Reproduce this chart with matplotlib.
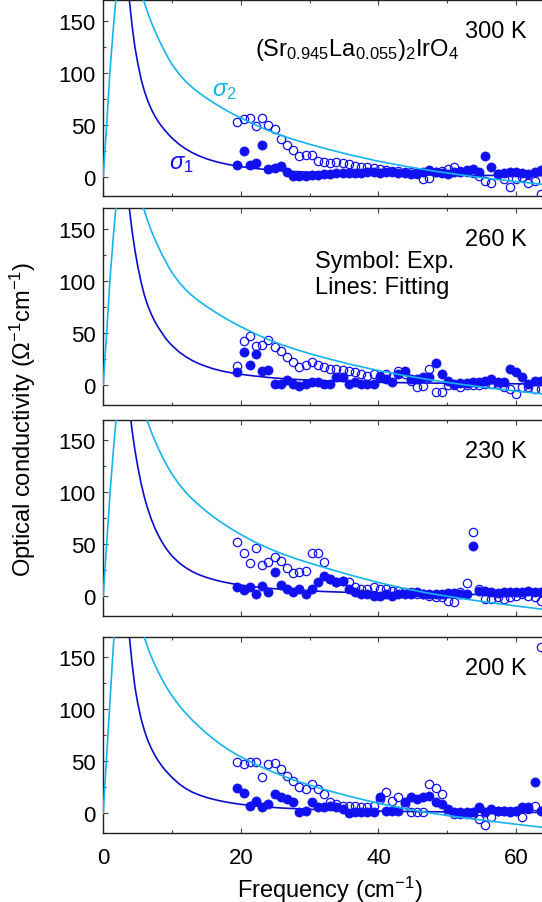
import matplotlib
matplotlib.use('Agg')
import matplotlib.pyplot as plt
from matplotlib.ticker import MultipleLocator

plt.rcParams['font.family'] = ['Liberation Sans', 'DejaVu Sans']
plt.rcParams['mathtext.fontset'] = 'custom'
plt.rcParams['mathtext.rm'] = 'Liberation Sans'
plt.rcParams['mathtext.it'] = 'Liberation Sans:italic'

# experimental frequency grid (cm^-1)
freq = [19.5, 20.4, 21.3, 22.2, 23.1, 24.0, 24.9, 25.8, 26.7, 27.6,
        28.5, 29.4, 30.3, 31.2, 32.1, 33.0, 33.9, 34.8, 35.7, 36.6,
        37.5, 38.4, 39.3, 40.2, 41.1, 42.0, 42.9, 43.8, 44.7, 45.6,
        46.5, 47.4, 48.3, 49.2, 50.1, 51.0, 51.9, 52.8, 53.7, 54.6,
        55.5, 56.4, 57.3, 58.2, 59.1, 60.0, 60.9, 61.8, 62.7, 63.6]

# sigma_1 (filled) and sigma_2 (open) measured, per temperature
s1_300 = [11.5, 24.4, 11.5, 12.8, 30.8, 7.4, 8.0, 10.0, 5.0, 1.0,
          0.5, 1.0, 1.5, 2.0, 2.5, 3.0, 3.5, 4.0, 3.5, 4.0,
          4.0, 4.5, 5.0, 4.0, 4.5, 5.0, 4.0, 3.5, 3.0, 4.0,
          5.0, 6.5, 5.0, 4.0, 3.0, 4.5, 5.0, 6.0, 7.0, 4.5,
          19.6, 9.6, 3.0, 4.0, 5.0, 5.0, 4.0, 3.0, 5.0, 6.0]
s2_300 = [52.3, 55.5, 56.1, 49.0, 56.1, 49.7, 45.9, 36.3, 30.5, 26.0,
          20.2, 20.9, 20.9, 15.4, 14.4, 13.2, 13.8, 12.8, 12.1, 10.6,
          9.0, 9.6, 8.0, 7.4, 6.7, 5.8, 5.8, 4.8, 4.2, 2.6,
          -2.2, -1.3, 4.2, 5.8, 7.4, 9.6, 5.8, 4.2, 3.5, 1.0,
          -3.8, -6.4, 2.6, -2.2, -9.6, -2.2, -0.6, -6.4, -3.8, -16.7]

s1_260 = [12.2, 31.4, 19.6, 29.8, 13.1, 14.7, 1.0, 1.0, 5.0, 1.0,
          -0.5, 1.0, 2.5, 2.5, 1.0, 1.0, 7.4, 7.4, 1.0, 2.5,
          1.0, 1.0, 1.0, 7.4, 5.8, 2.5, 10.6, 13.8, 5.8, 5.8,
          7.4, 8.0, 21.2, 10.6, 4.2, 1.0, 2.0, 2.0, 2.5, 2.5,
          4.0, 5.8, 3.0, 2.5, 15.4, 12.2, 7.4, 1.0, 4.2, 4.2]
s2_260 = [18.6, 42.6, 47.4, 37.8, 38.5, 43.3, 36.2, 33.0, 27.2, 21.8,
          17.0, 19.2, 21.8, 19.2, 17.0, 15.4, 15.4, 14.7, 13.8, 12.2,
          10.6, 9.0, 10.6, 9.0, 10.6, 7.4, 13.8, 11.0, 4.2, -2.2,
          -1.0, 15.0, -7.0, -7.0, 0.0, 0.0, -1.5, 0.0, 0.0, 0.5,
          1.0, 1.0, 1.0, -2.2, -3.8, -8.7, -2.2, -2.2, -3.8, -3.8]

s1_230 = [8.7, 6.4, 8.7, 2.2, 10.3, 3.8, 23.7, 11.2, 7.0, 3.8,
          7.0, 2.2, 7.0, 13.5, 19.9, 16.7, 13.5, 15.0, 7.0, 3.8,
          2.2, 2.2, 0.6, 0.6, 2.2, 0.6, 2.2, 2.2, 2.2, 3.8,
          2.2, 2.2, 2.2, 2.2, 3.2, 3.2, 2.2, 2.2, 48.0, 5.4,
          4.8, 3.8, 3.2, 3.8, 3.8, 3.8, 4.5, 4.8, 3.8, 4.5]
s2_230 = [52.6, 41.3, 31.7, 46.2, 30.1, 33.3, 38.1, 34.3, 27.2, 22.4,
          23.1, 24.0, 41.3, 41.3, 32.7, 16.7, 13.5, 15.0, 13.5, 8.7,
          7.0, 7.0, 8.7, 7.0, 7.0, 5.4, 5.4, 3.8, 3.8, 2.2,
          2.2, 0.6, -1.0, -1.0, -4.2, -5.0, 3.8, 12.5, 62.2, 7.0,
          -2.6, -2.6, -1.0, -2.6, -1.0, 0.6, 2.2, 0.6, -1.0, -4.2]

s1_200 = [24.0, 19.2, 7.4, 12.2, 5.8, 9.0, 18.6, 15.4, 13.8, 10.6,
          1.0, 2.6, 10.6, 5.8, 5.8, 7.4, 5.8, 4.2, 0.3, 1.0,
          1.0, 1.0, 1.0, 15.4, 2.6, 2.6, 2.6, 10.6, 15.4, 13.8,
          15.4, 17.0, 10.6, 9.0, 4.2, 1.6, 1.6, 1.0, 1.6, 5.8,
          1.6, 4.2, 2.6, 2.6, 1.6, 2.6, 5.8, 5.8, 30.4, 2.6]
s2_200 = [49.7, 47.4, 49.0, 49.7, 34.6, 47.4, 48.4, 42.6, 36.2, 30.8,
          25.0, 23.4, 28.2, 23.4, 18.6, 11.2, 9.0, 7.4, 7.4, 7.4,
          5.8, 5.8, 7.4, 13.8, 20.2, 12.2, 15.4, 9.0, 1.6, 1.6,
          1.0, 28.2, 24.0, 18.6, 2.6, -0.6, -0.6, -0.6, -0.6, -5.4,
          -11.2, -3.8, 2.6, 2.6, 2.6, 2.6, -3.8, 4.2, 7.4, 160.0]

# fitted curves
fit1_x = [3.0, 3.4, 3.8, 4.2, 4.6, 5.0, 5.5, 6.0, 6.5, 7.0,
          7.5, 8, 8.5, 9, 9.5, 10, 11, 12, 13, 14,
          15, 16, 17, 18, 19, 20, 22, 24, 26, 28,
          30, 33, 36, 40, 45, 50, 55, 60, 67]
fit2_x = [0, 0.5, 1.0, 1.5, 2.0, 2.5, 3.5, 4.5, 5.0, 5.5,
          6.0, 6.5, 7.0, 7.5, 8, 8.5, 9, 9.5, 10, 11,
          12, 13, 14, 15, 16, 17, 18, 19, 20, 22,
          24, 26, 28, 30, 33, 36, 40, 44, 48, 52,
          56, 60, 64, 67]

fit1_300 = [250, 203, 170, 145, 125, 110, 94, 82, 72.4, 64.8,
            58.4, 53.0, 48.4, 44.3, 40.6, 37.2, 31.3, 26.7, 22.9, 19.8,
            17.3, 15.2, 13.5, 12.0, 10.8, 9.7, 8.0, 6.7, 5.7, 4.95,
            4.3, 3.6, 3.0, 2.4, 1.9, 1.55, 1.3, 1.1, 0.85]
fit2_300 = [0, 50, 103, 145, 182, 215, 250, 220, 198, 178,
            167, 157.2, 148.3, 140.3, 133, 126.2, 119.8, 113.5, 108, 99,
            91.5, 85.5, 80.3, 75.6, 71.3, 67.3, 63.4, 59.8, 56.5, 50.2,
            44.4, 39.4, 35.1, 31.2, 25.8, 20.8, 14.9, 9.9, 5.5, 1.7,
            -1.7, -4.7, -7.4, -9.3]

fit1_260 = [255, 206, 170, 148, 130, 115, 99, 86, 76, 68,
            61, 55.5, 50.5, 45.5, 41.5, 38, 32, 27.2, 23.4, 20.3,
            17.8, 15.6, 13.9, 12.5, 11.3, 10.3, 8.7, 7.3, 6.2, 5.4,
            4.7, 3.9, 3.3, 2.65, 2.1, 1.7, 1.45, 1.2, 0.95]
fit2_260 = [0, 50, 103, 145, 182, 215, 250, 220, 198, 178,
            167, 157.2, 148.3, 140.3, 133, 126.2, 119.8, 113.5, 108, 99,
            91.5, 85.5, 80.3, 75.6, 71.3, 67.2, 63.2, 59.5, 56.1, 49.6,
            43.7, 38.6, 34.2, 30.2, 24.8, 19.8, 13.9, 8.9, 4.5, 0.7,
            -2.7, -5.8, -8.6, -10.5]

fit1_230 = [247, 210, 182, 159.5, 141, 125.5, 108.8, 95, 83.6, 74,
            65.8, 58.8, 52.7, 47.4, 42.8, 38.8, 32.4, 27.5, 23.6, 20.6,
            18.2, 16.2, 14.5, 13.1, 11.9, 10.85, 9.14, 7.82, 6.77, 5.92,
            5.23, 4.41, 3.77, 3.12, 2.52, 2.09, 1.76, 1.5, 1.23]
fit2_230 = [0, 50, 100, 142, 180, 220, 270, 250, 215, 192,
            178, 167, 158, 150, 142.5, 135.5, 129, 123, 117.5, 108,
            100, 93.2, 87.3, 81.7, 76.6, 71.8, 67.5, 63.3, 59.4, 52.3,
            46.2, 40.9, 36.2, 32.0, 26, 20.3, 13.3, 7.2, 2.2, -2,
            -5.8, -9.3, -12.5, -14.7]

fit1_200 = [250, 203, 170, 144, 122, 106.5, 91, 79.3, 69.8, 62.3,
            55.9, 50.5, 45.8, 41.6, 38.0, 34.5, 28.5, 23.8, 20.2, 17.5,
            15.3, 13.5, 12.0, 10.7, 9.6, 8.65, 7.2, 6.0, 5.1, 4.45,
            3.87, 3.24, 2.7, 2.16, 1.71, 1.4, 1.17, 0.99, 0.77]
fit2_200 = [0, 55, 110, 163, 210, 240, 265, 235, 205, 182,
            169, 159, 150.5, 143, 136, 129.5, 123.5, 118, 113, 104,
            96.2, 89.2, 83, 77, 71.6, 66.6, 62, 58, 54.3, 47.5,
            41.5, 36.2, 31.4, 27.1, 21.3, 16, 9.6, 4.2, -0.2, -3.9,
            -7.3, -10.5, -13.6, -15.7]

temps = ['300 K', '260 K', '230 K', '200 K']
s1_all = [s1_300, s1_260, s1_230, s1_200]
s2_all = [s2_300, s2_260, s2_230, s2_200]
f1_all = [fit1_300, fit1_260, fit1_230, fit1_200]
f2_all = [fit2_300, fit2_260, fit2_230, fit2_200]

DARK = '#0c0cd0'
MARK = '#1010f0'
LIGHT = '#14b4ee'

fig = plt.figure(figsize=(5.42, 9.03), dpi=100)
bottoms = [0.7813, 0.5506, 0.3166, 0.0763]
axes = []
for k in range(4):
    ax = fig.add_axes([0.1904, bottoms[k], 0.838, 0.2177])
    axes.append(ax)
    ax.plot(freq, s2_all[k], 'o', ms=6, mfc='none', mec=MARK, mew=0.9, zorder=3)
    ax.plot(freq, s1_all[k], 'o', ms=6.6, mfc=MARK, mec=MARK, mew=0.5, zorder=3)
    ax.plot(fit1_x, f1_all[k], color=DARK, lw=1.2, zorder=2)
    ax.plot(fit2_x, f2_all[k], color=LIGHT, lw=1.2, zorder=4)
    ax.set_xlim(0, 66)
    ax.set_ylim(-19, 170)
    ax.xaxis.set_major_locator(MultipleLocator(20))
    ax.xaxis.set_minor_locator(MultipleLocator(10))
    ax.yaxis.set_major_locator(MultipleLocator(50))
    ax.yaxis.set_minor_locator(MultipleLocator(25))
    ax.tick_params(which='both', direction='in', top=True, right=False,
                   width=0.8, color='#444444', labelsize=16)
    ax.tick_params(which='major', length=3.6)
    ax.tick_params(which='minor', length=2.4)
    ax.tick_params(axis='y', pad=5.5)
    ax.tick_params(axis='x', pad=10)
    if k < 3:
        ax.tick_params(axis='x', labelbottom=False)
    for sp in ax.spines.values():
        sp.set_linewidth(1.0)
        sp.set_color('#222222')
    ax.text(61.5, 140, temps[k], fontsize=17, ha='right', va='center')

axes[0].text(22.0, 123, r'$\mathrm{(Sr_{0.945}La_{0.055})_2IrO_4}$',
             fontsize=17, ha='left', va='center')
axes[0].text(15.8, 83, r'$\sigma_2$', color=LIGHT, fontsize=17, ha='left', va='center')
axes[0].text(9.6, 13, r'$\sigma_1$', color=MARK, fontsize=17, ha='left', va='center')
axes[1].text(30.8, 119, 'Symbol: Exp.', fontsize=17, ha='left', va='center')
axes[1].text(30.8, 94, 'Lines: Fitting', fontsize=17, ha='left', va='center')

axes[3].set_xlabel(r'Frequency (cm$^{-1}$)', fontsize=17, labelpad=4)
fig.text(0.042, 0.536, r'Optical conductivity ($\Omega^{-1}$cm$^{-1}$)',
         rotation=90, ha='center', va='center', fontsize=17)

fig.savefig('out.png', dpi=100)
